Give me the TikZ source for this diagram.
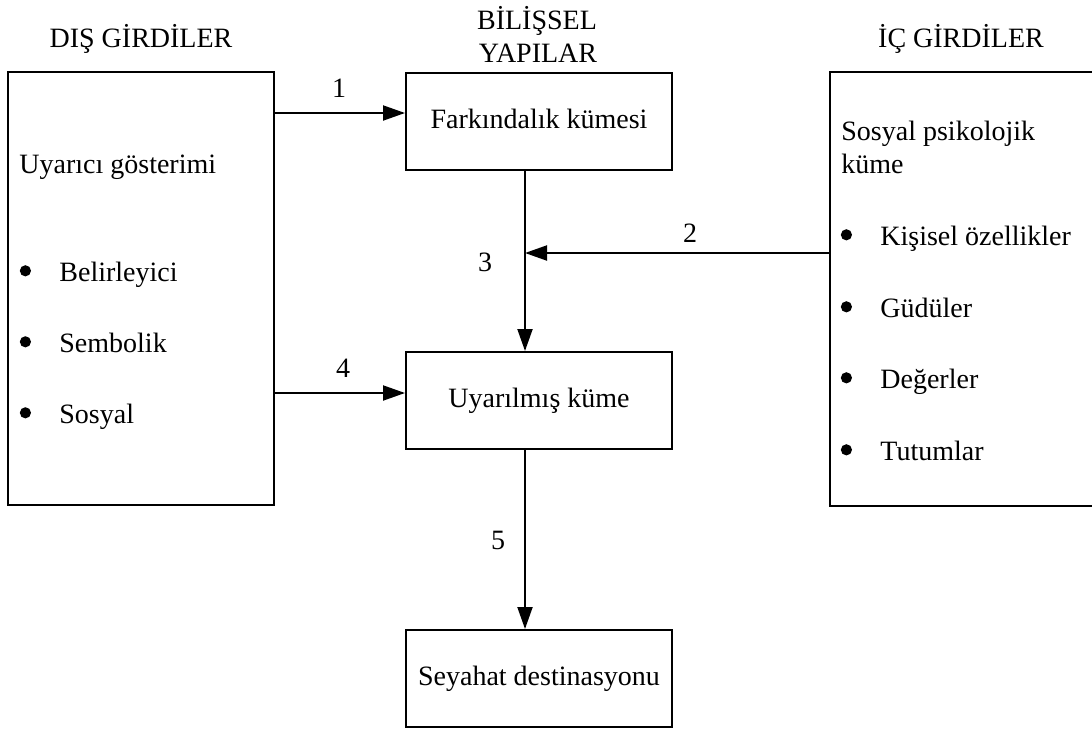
\documentclass[tikz,border=0pt]{standalone}
\usepackage{fontspec}
\setmainfont{Liberation Serif}
\usetikzlibrary{arrows.meta}
\newcommand\mybul{\makebox[20pt][l]{\hspace{0.2pt}\raisebox{2.3pt}{\tikz\fill[black] (0,0) circle (2.8pt);}}}
\begin{document}
\begin{tikzpicture}[x=0.5pt,y=-0.5pt,
  font=\fontsize{14}{16.5}\selectfont,
  box/.style={draw, line width=1pt, minimum width=133pt, minimum height=48.5pt, inner sep=0pt, text height=0.68em, text depth=0pt},
  bigbox/.style={draw, line width=1pt, inner sep=0pt},
  lbl/.style={anchor=base, inner sep=0pt},
  txt/.style={anchor=base west, inner sep=0pt},
  conn/.style={line width=1pt, -{Triangle[length=11pt,width=7.5pt]}},
]
\clip (0,0) rectangle (1092,729);
\fill[white] (0,0) rectangle (1092,729);

% headers
\node[lbl] (hdis) at (141,47) {DIŞ GİRDİLER};
\node[lbl] (hbil1) at (537,29) {BİLİŞSEL};
\node[lbl] (hbil2) at (538,62) {YAPILAR};
\node[lbl] (hic) at (961,47) {İÇ GİRDİLER};

% outer boxes
\node[bigbox, minimum width=133pt, minimum height=216.5pt] (dis) at (141,288.5) {};
\node[bigbox, minimum width=137pt, minimum height=217pt] (ic) at (967,289) {};

% central boxes
\node[box] (fark) at (539,121.5) {Farkındalık kümesi};
\node[box] (uyar) at (539,400.5) {Uyarılmış küme};
\node[box] (sey) at (539,678.5) {Seyahat destinasyonu};

% left box text
\node[txt] (t0) at (19,173) {Uyarıcı gösterimi};
\node[txt] (t1) at (19,281) {\mybul Belirleyici};
\node[txt] (t2) at (19,352) {\mybul Sembolik};
\node[txt] (t3) at (19,423) {\mybul Sosyal};

% right box text
\node[txt] (r0) at (841,140) {Sosyal psikolojik};
\node[txt] (r0b) at (841,173) {küme};
\node[txt] (r1) at (840,245) {\mybul Kişisel özellikler};
\node[txt] (r2) at (840,317) {\mybul Güdüler};
\node[txt] (r3) at (840,388) {\mybul Değerler};
\node[txt] (r4) at (840,460) {\mybul Tutumlar};

% helper coordinates
\coordinate (vx) at (525,0);
\coordinate (y1) at (0,113);
\coordinate (y2) at (0,253);
\coordinate (y4) at (0,393);

% connectors
\draw[conn] (dis.east |- y1) -- (fark.west |- y1);
\draw[conn] (fark.south -| vx) -- (uyar.north -| vx);
\draw[conn] (ic.west |- y2) -- (vx |- y2);
\draw[conn] (dis.east |- y4) -- (uyar.west |- y4);
\draw[conn] (uyar.south -| vx) -- (sey.north -| vx);

% connector labels
\node[lbl] (l1) at (339,97) {1};
\node[lbl] (l2) at (690,242) {2};
\node[lbl] (l3) at (485,271) {3};
\node[lbl] (l4) at (343,377) {4};
\node[lbl] (l5) at (498,549) {5};
\end{tikzpicture}
\end{document}
